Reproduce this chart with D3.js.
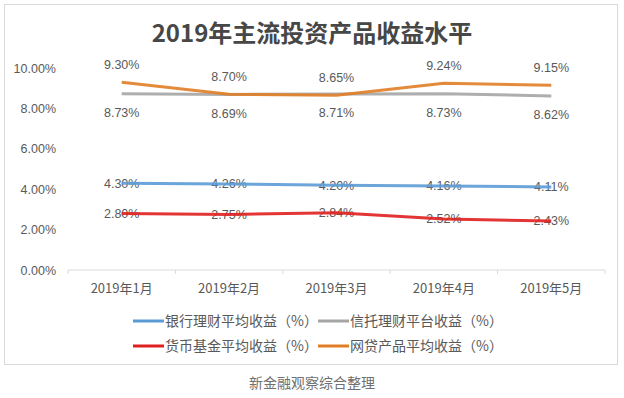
<!DOCTYPE html>
<html>
<head>
<meta charset="utf-8">
<script src="https://cdn.jsdelivr.net/npm/d3@7"></script>
<style>
  body { margin: 0; background: #fff; }
  svg { display: block; }
</style>
</head>
<body>
<div id="chart"></div>
<script>
const months = ['2019年1月', '2019年2月', '2019年3月', '2019年4月', '2019年5月'];
const bankValues = [4.30, 4.26, 4.20, 4.16, 4.11];
const trustValues = [8.73, 8.69, 8.71, 8.73, 8.62];
const moneyFundValues = [2.80, 2.75, 2.84, 2.52, 2.43];
const p2pValues = [9.30, 8.70, 8.65, 9.24, 9.15];
const yTicks = [0, 2, 4, 6, 8, 10];

const seriesNames = ['银行理财平均收益（%）', '信托理财平台收益（%）', '货币基金平均收益（%）', '网贷产品平均收益（%）'];

// label placement per series: dy relative to the point
const series = [
  { name: seriesNames[0], values: bankValues, color: '#5b9bd5', dy: 0 },
  { name: seriesNames[1], values: trustValues, color: '#a5a5a5', dy: 19 },
  { name: seriesNames[2], values: moneyFundValues, color: '#e01f1f', dy: 0 },
  { name: seriesNames[3], values: p2pValues, color: '#e07e25', dy: -18 }
];

const W = 624, H = 398;
const numFont = '"Liberation Sans", Arial, sans-serif';
const cjkFont = '"Noto Sans CJK SC", sans-serif';

const svg = d3.select('#chart').append('svg')
  .attr('width', W).attr('height', H);

// outer frame
svg.append('rect')
  .attr('x', 4.5).attr('y', 4.5)
  .attr('width', 613).attr('height', 360)
  .attr('fill', '#fff').attr('stroke', '#d9d9d9');

svg.append('text')
  .attr('x', 312).attr('y', 42)
  .attr('text-anchor', 'middle')
  .style('font-family', cjkFont)
  .style('font-weight', 'bold')
  .style('font-size', '24px')
  .attr('fill', '#474747')
  .text('2019年主流投资产品收益水平');

const x = d3.scaleBand().domain(months).range([68, 605]);
const y = d3.scaleLinear().domain([0, 10]).range([270, 68]);

// y axis labels only
const yAxis = svg.append('g')
  .attr('transform', 'translate(60,0)')
  .call(d3.axisLeft(y).tickValues(yTicks).tickSize(0).tickFormat(d => d.toFixed(2) + '%'));
yAxis.select('.domain').remove();
yAxis.selectAll('text')
  .attr('x', -4)
  .style('font-family', numFont)
  .style('font-size', '12.5px')
  .attr('fill', '#595959');

// x axis with ticks between categories
const xAxis = svg.append('g')
  .attr('transform', 'translate(0,270)');
xAxis.append('line')
  .attr('x1', x.range()[0]).attr('x2', x.range()[1])
  .attr('stroke', '#d9d9d9');
xAxis.selectAll('line.tick')
  .data(months.concat(['end']))
  .enter().append('line')
  .attr('class', 'tick')
  .attr('x1', (d, i) => x.range()[0] + i * x.step())
  .attr('x2', (d, i) => x.range()[0] + i * x.step())
  .attr('y1', 0).attr('y2', 4)
  .attr('stroke', '#d9d9d9');
xAxis.selectAll('text')
  .data(months)
  .enter().append('text')
  .attr('x', d => x(d) + x.bandwidth() / 2)
  .attr('y', 23)
  .attr('text-anchor', 'middle')
  .style('font-family', cjkFont)
  .style('font-size', '13px')
  .attr('fill', '#595959')
  .text(d => d);

const line = d3.line()
  .x((d, i) => x(months[i]) + x.bandwidth() / 2)
  .y(d => y(d));

// labels
series.forEach(s => {
  svg.append('g').selectAll('text')
    .data(s.values)
    .enter().append('text')
    .attr('x', (d, i) => x(months[i]) + x.bandwidth() / 2)
    .attr('y', d => y(d) + s.dy)
    .attr('dy', '0.35em')
    .attr('text-anchor', 'middle')
    .style('font-family', numFont)
    .style('font-size', '12.5px')
    .attr('fill', '#595959')
    .text(d => d.toFixed(2) + '%');
});

// lines drawn over the labels
series.forEach(s => {
  svg.append('path')
    .datum(s.values)
    .attr('d', line)
    .attr('fill', 'none')
    .attr('stroke', s.color)
    .attr('stroke-width', 3)
    .attr('stroke-opacity', 0.9)
    .attr('stroke-linejoin', 'round');
});

// legend, two rows
const legendPos = [[133, 321], [318, 321], [133, 346], [318, 346]];
series.forEach((s, i) => {
  const g = svg.append('g')
    .attr('transform', `translate(${legendPos[i][0]},${legendPos[i][1]})`);
  g.append('line')
    .attr('x1', 0).attr('x2', 31)
    .attr('stroke', s.color).attr('stroke-width', 3);
  g.append('text')
    .attr('x', 32).attr('dy', '0.35em')
    .style('font-family', cjkFont)
    .style('font-size', '14px')
    .attr('fill', '#595959')
    .text(s.name);
});

svg.append('text')
  .attr('x', 312).attr('y', 388)
  .attr('text-anchor', 'middle')
  .style('font-family', cjkFont)
  .style('font-size', '14px')
  .attr('fill', '#707070')
  .text('新金融观察综合整理');
</script>
</body>
</html>
